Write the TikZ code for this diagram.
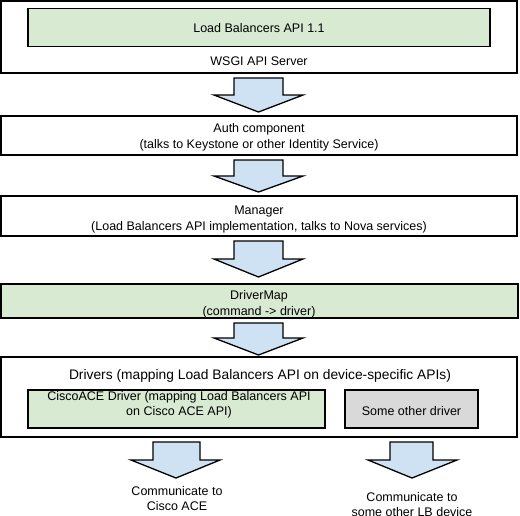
\documentclass[tikz,border=0pt]{standalone}
\usepackage{fontspec}
\setmainfont{Liberation Sans}
\definecolor{lgreen}{HTML}{D9EAD3}
\definecolor{lblue}{HTML}{CFE2F3}
\definecolor{lgray}{HTML}{D9D9D9}
\begin{document}
\begin{tikzpicture}[x=1pt,y=-1pt,
  box/.style={draw=black,line width=1.3pt,inner sep=0pt},
  lbl/.style={inner sep=0pt,align=center,font=\fontsize{12.5}{16}\selectfont},
  barrow/.style={draw=black,line width=1.3pt,fill=lblue,line join=miter}]
\useasboundingbox (0,0) rectangle (520,515);
% WSGI
\draw[box,fill=white] (1,1) rectangle (517,73);
\node[box,fill=lgreen,minimum width=462pt,minimum height=38pt] (lbapi) at (259,27.5) {};
\node[lbl] (lbapit) at (259,28) {Load Balancers API 1.1};
\node[lbl] (wsgi) at (259,61) {WSGI API Server};
% arrow 1
\draw[barrow] (234,78) -- (283,78) -- (283,95) -- (303,95) -- (258.5,112) -- (214,95) -- (234,95) -- cycle;
% Auth
\draw[box] (1,116) rectangle (517,155);
\node[lbl] (auth) at (259,137.5) {Auth component\\(talks to Keystone or other Identity Service)};
% arrow 2
\draw[barrow] (234,160) -- (283,160) -- (283,176) -- (303,176) -- (258.5,192) -- (214,176) -- (234,176) -- cycle;
% Manager
\draw[box] (1,196) rectangle (517,236);
\node[lbl] (mgr) at (259,219.5) {Manager\\(Load Balancers API implementation, talks to Nova services)};
% arrow 3
\draw[barrow] (234,241) -- (283,241) -- (283,259) -- (303,259) -- (258.5,277) -- (214,259) -- (234,259) -- cycle;
% DriverMap
\draw[box,fill=lgreen] (1,284) rectangle (518,318);
\node[lbl] (dmap) at (259,304) {DriverMap\\(command -> driver)};
% arrow 4
\draw[barrow] (234,323) -- (283,323) -- (283,338) -- (303,338) -- (258.5,355) -- (214,338) -- (234,338) -- cycle;
% Drivers
\draw[box] (1,357) rectangle (517,437);
\node[lbl,font=\fontsize{13.8}{16}\selectfont] (drv) at (260,376) {Drivers (mapping Load Balancers API on device-specific APIs)};
\draw[box,fill=lgreen] (28,390) rectangle (325,428);
\node[lbl,font=\fontsize{12.5}{15}\selectfont] (cisco) at (179,405) {CiscoACE Driver (mapping Load Balancers API\\on Cisco ACE API)};
\draw[box,fill=lgray] (345,390) rectangle (478,428);
\node[lbl] (other) at (411.5,411) {Some other driver};
% arrow 5
\draw[barrow] (153,442) -- (200,442) -- (200,460) -- (220,460) -- (176,478) -- (131,460) -- (153,460) -- cycle;
\node[lbl,font=\fontsize{12.5}{15}\selectfont] (cace) at (177,498.5) {Communicate to\\Cisco ACE};
% arrow 6
\draw[barrow] (390,442) -- (433,442) -- (433,460) -- (457,460) -- (412,478) -- (368,460) -- (390,460) -- cycle;
\node[lbl,font=\fontsize{12.5}{15}\selectfont] (clb) at (412,505) {Communicate to\\some other LB device};
\end{tikzpicture}
\end{document}
